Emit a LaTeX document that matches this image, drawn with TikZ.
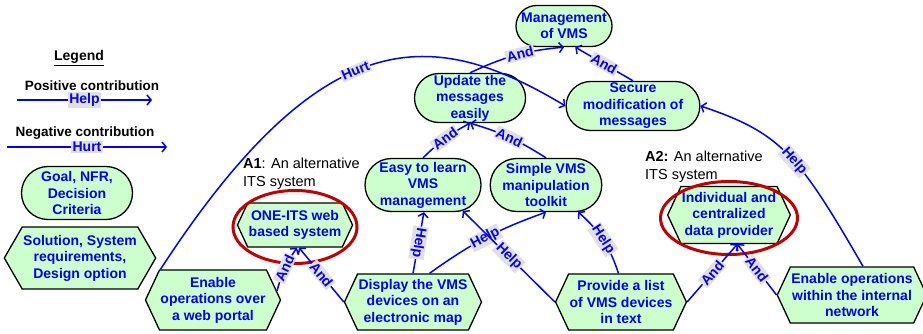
\documentclass[tikz,border=0pt]{standalone}
\usepackage{fontspec}
\setmainfont{Liberation Sans}
\usepackage{tikz}
\usetikzlibrary{arrows.meta,positioning,calc,shapes.misc,shapes.symbols,shapes.geometric}
\definecolor{goalgreen}{HTML}{CCFFCC}
\definecolor{ringred}{HTML}{C00000}
\definecolor{tagbg}{HTML}{E0E0E0}

\begin{document}
\begin{tikzpicture}[x=1pt, y=1pt,
  goal/.style={draw, line width=1.3pt, rounded rectangle, fill=goalgreen, text=blue, align=center, font=\bfseries\fontsize{14}{16.5}\selectfont, inner xsep=1pt, inner ysep=0pt, minimum width=#1, minimum height=49pt},
  goal/.default=110pt,
  soln/.style={draw, line width=1.3pt, signal, signal to=east and west, signal pointer angle=130, fill=goalgreen, text=blue, align=center, font=\bfseries\fontsize{14}{16.5}\selectfont, inner xsep=1pt, inner ysep=0pt, minimum width=#1, minimum height=56pt},
  soln/.default=110pt,
  ring/.style={draw=ringred, line width=3pt, ellipse},
  arr/.style={-{Straight Barb[length=4pt, width=10pt]}, line width=1.5pt, blue},
  tagtext/.style={font=\bfseries\fontsize{14}{14}\selectfont, text=blue, fill=tagbg, inner sep=1.2pt},
  tag/.style={tagtext, sloped},
  note/.style={align=left, anchor=north west, inner sep=0pt, font=\fontsize{14.5}{18}\selectfont}
]
\useasboundingbox (0,0) rectangle (923,333);

\node[font=\bfseries\fontsize{14}{16}\selectfont] (legend) at (79,275) {\underline{Legend}};
\node[font=\bfseries\fontsize{13.5}{16}\selectfont] (pos) at (92,247) {Positive contribution};
\node[font=\bfseries\fontsize{13.5}{16}\selectfont] (neg) at (85,200) {Negative contribution};
\coordinate (helpA) at (17,233);
\coordinate (helpB) at (152,233);
\coordinate (hurtA) at (7,186);
\coordinate (hurtB) at (167,186);
\draw[arr] (helpA) -- node[tag]{Help} (helpB);
\draw[arr] (hurtA) -- node[tag]{Hurt} (hurtB);
\node[goal=113pt, minimum height=53pt] (goalkey) at (77,140) {Goal, NFR,\\Decision\\Criteria};
\node[soln=145pt, minimum height=62pt, signal pointer angle=120] (solkey) at (80,75) {Solution, System\\requirements,\\Design option};

\node[goal=98pt, minimum height=41pt] (mgmt) at (564,307) {Management\\of VMS};
\node[goal=113pt] (update) at (470,235) {Update the\\messages\\easily};
\node[goal=120pt] (secure) at (633,227) {Secure\\modification of\\messages};
\node[goal=118pt, minimum height=53pt] (easy) at (423,148) {Easy to learn\\VMS\\management};
\node[goal=107pt, minimum height=53pt] (simple) at (546,148) {Simple VMS\\manipulation\\toolkit};
\node[soln=107pt, minimum height=44pt] (oneits) at (295,108) {ONE-ITS web\\based system};
\node[soln=113pt, minimum height=57pt] (indiv) at (729,118) {Individual and\\centralized\\data provider};
\node[soln=130pt, minimum height=60pt] (portal) at (213,33) {Enable\\operations over\\a web portal};
\node[soln=136pt] (display) at (413,31) {Display the VMS\\devices on an\\electronic map};
\node[soln=112pt] (provide) at (621,31) {Provide a list\\of VMS devices\\in text};
\node[soln=142pt] (network) at (852,38) {Enable operations\\within the internal\\network};

\node[ring, minimum width=124pt, minimum height=73pt] (ring1) at (295,106) {};
\node[ring, minimum width=137pt, minimum height=73pt] (ring2) at (729,115) {};
\node[note] (alt1) at (243,175) {\textbf{A1}: An alternative\\ITS system};
\node[note] (alt2) at (645,182) {\textbf{A2:} An alternative\\ITS system};

\draw[arr] (update.north) to[bend left=10] node[tag, pos=0.55]{And} (mgmt.south);
\draw[arr] (secure.north) -- node[tag]{And} (mgmt.-62);
\draw[arr] (easy.north) to[bend left=8] node[tag]{And} (update.south);
\draw[arr] (simple.north) to[bend right=8] node[tag]{And} (update.south);
\draw[arr] (portal.150) .. controls (324,315) and (434,306) .. node[tag, pos=0.45]{Hurt} (secure.west);
\draw[arr] (network.69) .. controls (798,179) and (781,200) .. node[tag, pos=0.45]{Help} (secure.east);
\draw[arr] (portal.8) to[bend left=10] node[tag]{And} (oneits.-85);
\draw[arr] (display.west) -- node[tag]{And} (oneits.-80);
\draw[arr] (display.north) -- node[tagtext, rotate=-99]{Help} (easy.-88);
\draw[arr] (display.60) to[bend left=8] node[tag]{Help} (simple.south);
\draw[arr] (provide.west) -- node[tag]{Help} (easy.-33);
\draw[arr] (provide.95) to[bend right=15] node[tag]{Help} (simple.-40);
\draw[arr] (provide.east) -- node[tag]{And} (indiv.-74);
\draw[arr] (network.west) -- node[tag]{And} (indiv.-74);
\end{tikzpicture}
\end{document}
